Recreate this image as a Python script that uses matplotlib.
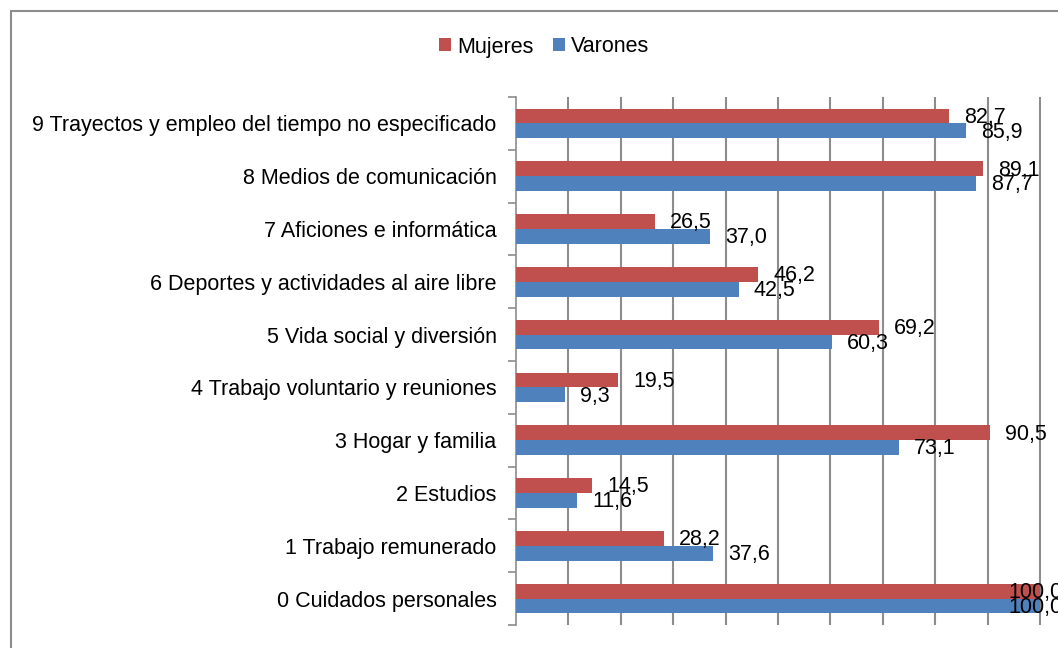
import matplotlib.pyplot as plt
import matplotlib.patches as mpatches
import numpy as np

plt.rcParams['font.family'] = ['Liberation Sans', 'DejaVu Sans']

categorias = ['0 Cuidados personales', '1 Trabajo remunerado', '2 Estudios',
              '3 Hogar y familia', '4 Trabajo voluntario y reuniones',
              '5 Vida social y diversión', '6 Deportes y actividades al aire libre',
              '7 Aficiones e informática', '8 Medios de comunicación',
              '9 Trayectos y empleo del tiempo no especificado']
mujeres = [100.0, 28.2, 14.5, 90.5, 19.5, 69.2, 46.2, 26.5, 89.1, 82.7]
varones = [100.0, 37.6, 11.6, 73.1, 9.3, 60.3, 42.5, 37.0, 87.7, 85.9]

rojo = '#C0504D'
azul = '#4F81BD'
gris = '#8C8C8C'
fs = 15.5

fig = plt.figure(figsize=(10.58, 6.48), dpi=100)
W, H = 1058, 648
ax = fig.add_axes([516 / W, 23 / H, (1041 - 516) / W, (625 - 97) / H])

y = np.arange(len(categorias))
h = 0.28
ax.barh(y + h / 2, mujeres, height=h, color=rojo, label='Mujeres', zorder=3)
ax.barh(y - h / 2, varones, height=h, color=azul, label='Varones', zorder=3)


def etiqueta(v, yy):
    txt = f'{v:.1f}'.replace('.', ',')
    if v >= 99:
        # Excel pulls the label back inside the chart area
        ax.annotate(txt, (1062 / W, yy), xycoords=('figure fraction', 'data'),
                    xytext=(0, -1), textcoords='offset points',
                    va='center', ha='right', fontsize=fs, annotation_clip=False, zorder=4)
    else:
        ax.annotate(txt, (v, yy), xytext=(11, -1), textcoords='offset points',
                    va='center', ha='left', fontsize=fs, annotation_clip=False, zorder=4)


for i in range(len(categorias)):
    etiqueta(mujeres[i], y[i] + h / 2)
    etiqueta(varones[i], y[i] - h / 2)

ax.set_xlim(0, 100.2)
ax.set_ylim(-0.5, len(categorias) - 0.5)
ax.set_xticks(np.arange(10, 101, 10))
ax.tick_params(axis='x', length=0, labelbottom=False)
ax.grid(axis='x', color=gris, linewidth=1.5, zorder=0)
ax.set_yticks(y)
ax.set_yticklabels(categorias, fontsize=fs)
ax.tick_params(axis='y', which='major', length=0, pad=14)
ax.set_yticks(np.arange(-0.5, len(categorias), 1), minor=True)
ax.tick_params(axis='y', which='minor', length=6, width=1.2, color=gris)
for s in ['top', 'right', 'bottom']:
    ax.spines[s].set_visible(False)
ax.spines['left'].set_color(gris)
ax.spines['left'].set_linewidth(1.2)

fig.legend(loc='center', bbox_to_anchor=(544 / W, 1 - 47 / H), ncol=2, frameon=False,
           fontsize=fs, handlelength=0.55, handleheight=0.55, handletextpad=0.3,
           columnspacing=0.9)

fig.patches.append(mpatches.Rectangle((11 / W, -0.05), 1.1, 1 - 11 / H + 0.05,
                                      transform=fig.transFigure, fill=False,
                                      edgecolor='#8C8C8C', linewidth=1.5))

fig.savefig('out.png', dpi=100)
